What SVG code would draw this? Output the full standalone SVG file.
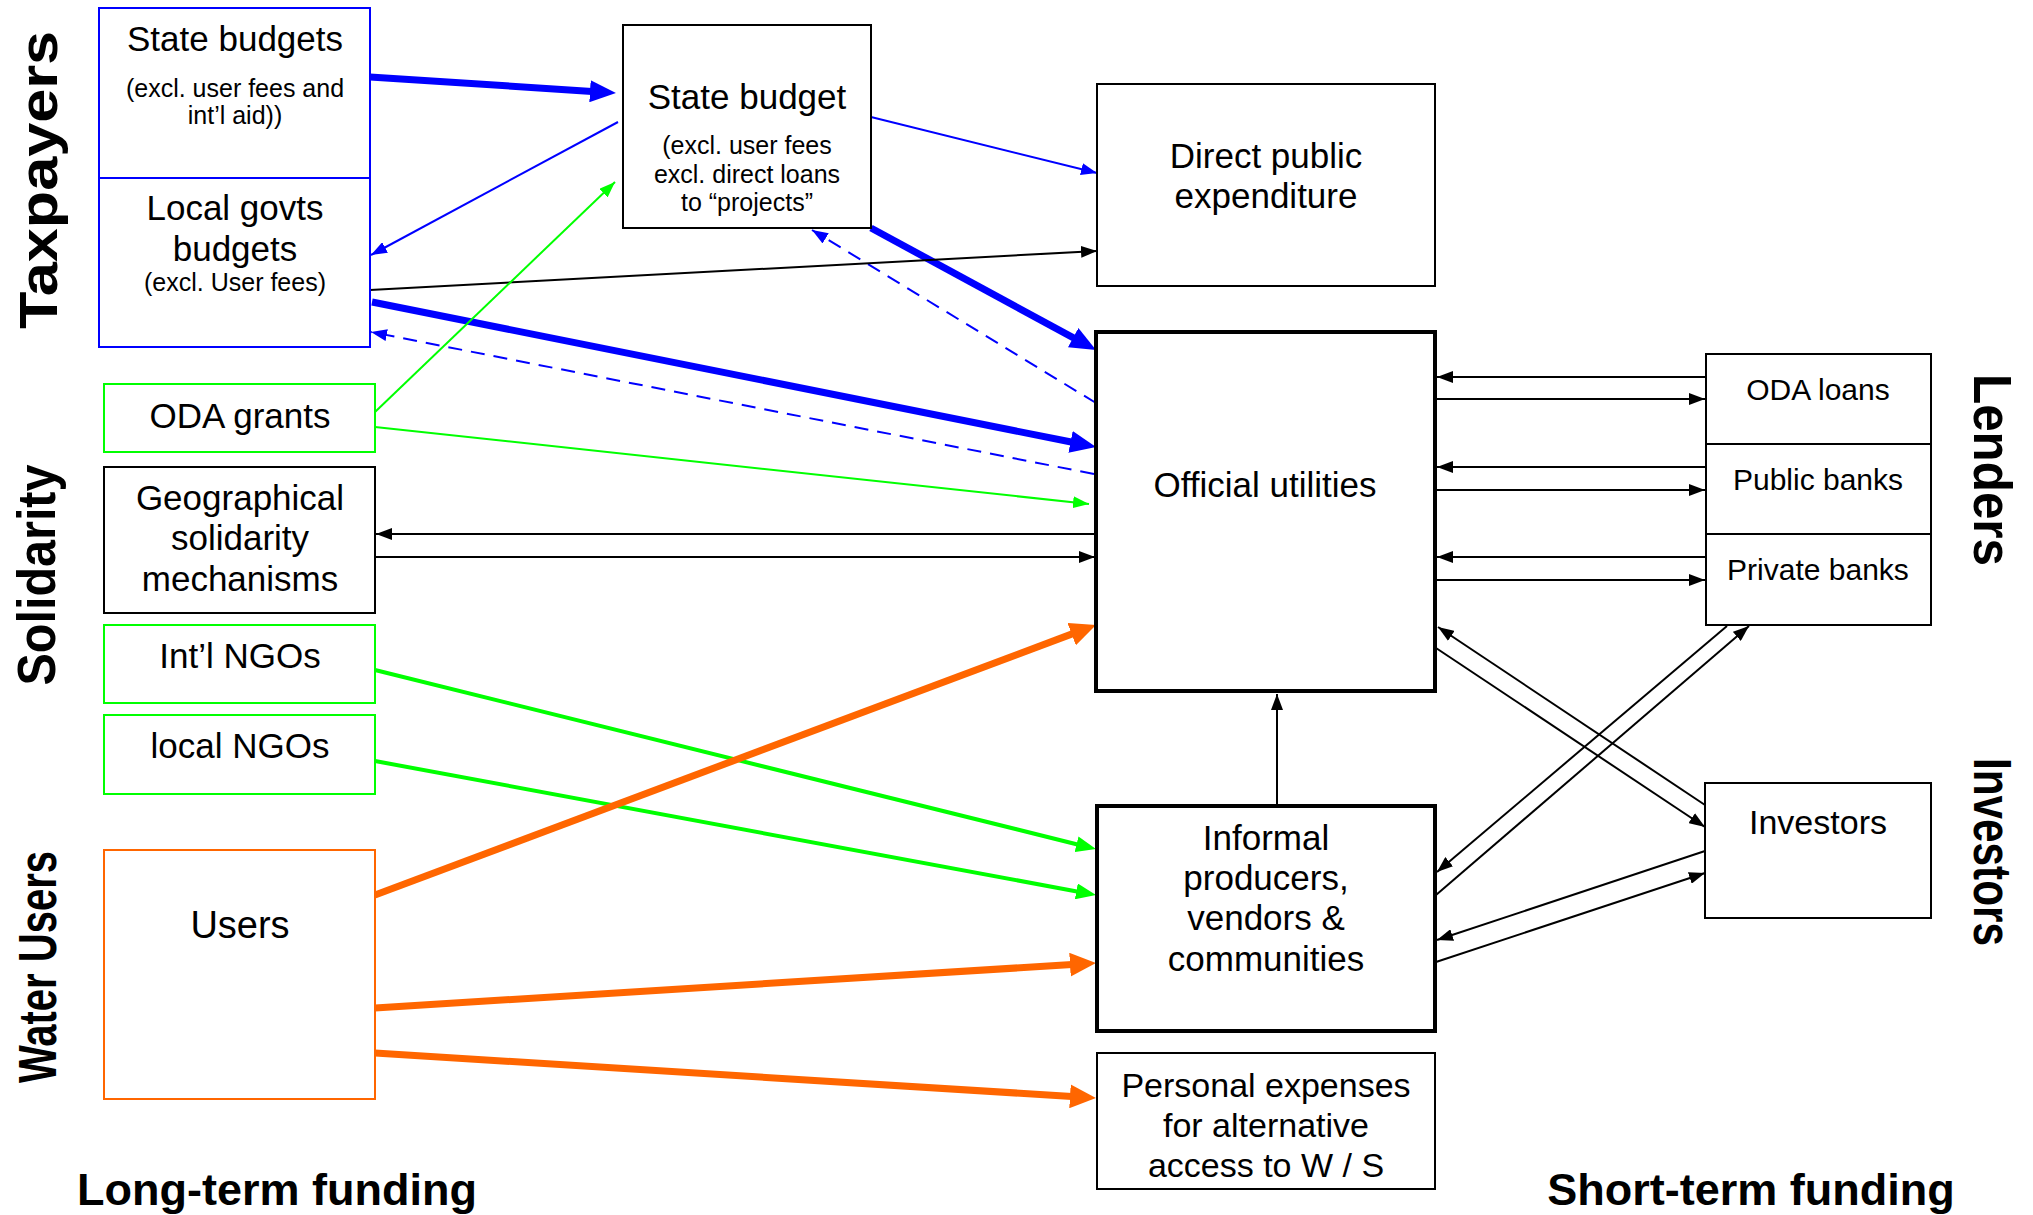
<svg xmlns="http://www.w3.org/2000/svg" width="2033" height="1215" viewBox="0 0 2033 1215">
<style>
text{font-family:"Liberation Sans",Arial,sans-serif;fill:#000;}
.t{font-size:35px;text-anchor:middle;}
.s{font-size:25px;text-anchor:middle;}
.l{font-size:30px;text-anchor:middle;}
.side{font-size:54px;font-weight:bold;text-anchor:middle;}
.foot{font-size:45px;font-weight:bold;text-anchor:middle;}
.bx{fill:#fff;stroke:#000;stroke-width:2;}
.bxk{fill:#fff;stroke:#000;stroke-width:4;}
.bb{fill:#fff;stroke:#0000ff;stroke-width:2;}
.bg{fill:#fff;stroke:#00ff00;stroke-width:2;}
.bo{fill:#fff;stroke:#ff6600;stroke-width:2;}
.cb{stroke:#0000ff;stroke-width:2;fill:none;}
.cbk{stroke:#0000ff;stroke-width:7;fill:none;}
.cbd{stroke:#0000ff;stroke-width:2;fill:none;stroke-dasharray:14 9;}
.ck{stroke:#000;stroke-width:2;fill:none;}
.cg{stroke:#00ff00;stroke-width:2;fill:none;}
.cgk{stroke:#00ff00;stroke-width:4;fill:none;}
.co{stroke:#ff6600;stroke-width:7;fill:none;}
</style>
<defs>
<marker id="mBlueBig" markerUnits="userSpaceOnUse" markerWidth="26" markerHeight="22" refX="2" refY="11" orient="auto"><path d="M0,0 L26,11 L0,22 z" fill="#0000ff"/></marker>
<marker id="mBlue" markerUnits="userSpaceOnUse" markerWidth="16" markerHeight="12" refX="16" refY="6" orient="auto"><path d="M0,0 L16,6 L0,12 z" fill="#0000ff"/></marker>
<marker id="mGreen" markerUnits="userSpaceOnUse" markerWidth="16" markerHeight="12" refX="16" refY="6" orient="auto"><path d="M0,0 L16,6 L0,12 z" fill="#00ff00"/></marker>
<marker id="mGreenMed" markerUnits="userSpaceOnUse" markerWidth="20" markerHeight="16" refX="2" refY="8" orient="auto"><path d="M0,0 L20,8 L0,16 z" fill="#00ff00"/></marker>
<marker id="mOrange" markerUnits="userSpaceOnUse" markerWidth="26" markerHeight="24" refX="2" refY="12" orient="auto"><path d="M0,0 L26,12 L0,24 z" fill="#ff6600"/></marker>
<marker id="mBlack" markerUnits="userSpaceOnUse" markerWidth="16" markerHeight="12" refX="16" refY="6" orient="auto"><path d="M0,0 L16,6 L0,12 z" fill="#000"/></marker>
</defs>
<rect width="2033" height="1215" fill="#fff"/>

<g id="side-labels">
<text class="side" transform="translate(57,180) rotate(-90)" textLength="298" lengthAdjust="spacingAndGlyphs">Taxpayers</text>
<text class="side" transform="translate(55,575) rotate(-90)" textLength="221" lengthAdjust="spacingAndGlyphs">Solidarity</text>
<text class="side" transform="translate(56,967) rotate(-90)" textLength="232" lengthAdjust="spacingAndGlyphs">Water Users</text>
<text class="side" transform="translate(1974,470) rotate(90)" textLength="192" lengthAdjust="spacingAndGlyphs">Lenders</text>
<text class="side" transform="translate(1974,852) rotate(90)" textLength="188" lengthAdjust="spacingAndGlyphs">Investors</text>
<text class="foot" x="277" y="1205">Long-term funding</text>
<text class="foot" x="1751" y="1205">Short-term funding</text>
</g>

<g id="connectors">
<line class="cbk" x1="370" y1="77" x2="592" y2="91.4" marker-end="url(#mBlueBig)"/>
<line class="cbk" x1="871" y1="228" x2="1074.9" y2="338.6" marker-end="url(#mBlueBig)"/>
<line class="cbk" x1="372" y1="302" x2="1072.5" y2="442.3" marker-end="url(#mBlueBig)"/>
<line class="cb" x1="618" y1="122" x2="371" y2="255" marker-end="url(#mBlue)"/>
<line class="cb" x1="871" y1="117" x2="1097" y2="173" marker-end="url(#mBlue)"/>
<line class="cbd" x1="1096" y1="403" x2="812" y2="230" marker-end="url(#mBlue)"/>
<line class="cbd" x1="1094" y1="474" x2="371" y2="332" marker-end="url(#mBlue)"/>
<line class="ck" x1="370" y1="290" x2="1097" y2="251" marker-end="url(#mBlack)"/>
<line class="cg" x1="375" y1="412" x2="615" y2="182" marker-end="url(#mGreen)"/>
<line class="cg" x1="375" y1="427" x2="1089" y2="504" marker-end="url(#mGreen)"/>
<line class="cgk" x1="375" y1="670" x2="1078.5" y2="844.7" marker-end="url(#mGreenMed)"/>
<line class="cgk" x1="375" y1="761" x2="1078.3" y2="891.7" marker-end="url(#mGreenMed)"/>
<line class="co" x1="375" y1="895" x2="1073.5" y2="633.4" marker-end="url(#mOrange)"/>
<line class="co" x1="375" y1="1008" x2="1072" y2="964.5" marker-end="url(#mOrange)"/>
<line class="co" x1="375" y1="1053" x2="1072" y2="1096.5" marker-end="url(#mOrange)"/>
<line class="ck" x1="1095" y1="534" x2="376" y2="534" marker-end="url(#mBlack)"/>
<line class="ck" x1="375" y1="557" x2="1095" y2="557" marker-end="url(#mBlack)"/>
<line class="ck" x1="1706" y1="377" x2="1437" y2="377" marker-end="url(#mBlack)"/>
<line class="ck" x1="1436" y1="399" x2="1705" y2="399" marker-end="url(#mBlack)"/>
<line class="ck" x1="1706" y1="467" x2="1437" y2="467" marker-end="url(#mBlack)"/>
<line class="ck" x1="1436" y1="490" x2="1705" y2="490" marker-end="url(#mBlack)"/>
<line class="ck" x1="1706" y1="557" x2="1437" y2="557" marker-end="url(#mBlack)"/>
<line class="ck" x1="1436" y1="580" x2="1705" y2="580" marker-end="url(#mBlack)"/>
<line class="ck" x1="1277" y1="805" x2="1277" y2="694" marker-end="url(#mBlack)"/>
<line class="ck" x1="1705" y1="805" x2="1438" y2="627" marker-end="url(#mBlack)"/>
<line class="ck" x1="1436" y1="648" x2="1705" y2="827" marker-end="url(#mBlack)"/>
<line class="ck" x1="1436" y1="895" x2="1749" y2="626" marker-end="url(#mBlack)"/>
<line class="ck" x1="1727" y1="626" x2="1437" y2="872" marker-end="url(#mBlack)"/>
<line class="ck" x1="1705" y1="851" x2="1437" y2="940" marker-end="url(#mBlack)"/>
<line class="ck" x1="1436" y1="962" x2="1705" y2="873" marker-end="url(#mBlack)"/>
</g>

<g id="state-budgets">
<rect class="bb" x="99" y="8" width="271" height="170"/>
<text class="t" x="235" y="51">State budgets</text>
<text class="s" x="235" y="97">(excl. user fees and</text>
<text class="s" x="235" y="124">int’l aid))</text>
</g>
<g id="local-govts">
<rect class="bb" x="99" y="178" width="271" height="169"/>
<text class="t" x="235" y="220">Local govts</text>
<text class="t" x="235" y="261">budgets</text>
<text class="s" x="235" y="291">(excl. User fees)</text>
</g>
<g id="state-budget">
<rect class="bx" x="623" y="25" width="248" height="203"/>
<text class="t" x="747" y="109">State budget</text>
<text class="s" x="747" y="154">(excl. user fees</text>
<text class="s" x="747" y="183">excl. direct loans</text>
<text class="s" x="747" y="211">to “projects”</text>
</g>
<g id="direct-public">
<rect class="bx" x="1097" y="84" width="338" height="202"/>
<text class="t" x="1266" y="168">Direct public</text>
<text class="t" x="1266" y="208">expenditure</text>
</g>
<g id="official-utilities">
<rect class="bxk" x="1096" y="332" width="339" height="359"/>
<text class="t" x="1265" y="497">Official utilities</text>
</g>
<g id="oda-grants">
<rect class="bg" x="104" y="384" width="271" height="68"/>
<text class="t" x="240" y="428">ODA grants</text>
</g>
<g id="geographical">
<rect class="bx" x="104" y="467" width="271" height="146"/>
<text class="t" x="240" y="510">Geographical</text>
<text class="t" x="240" y="550">solidarity</text>
<text class="t" x="240" y="591">mechanisms</text>
</g>
<g id="intl-ngos">
<rect class="bg" x="104" y="625" width="271" height="78"/>
<text class="t" x="240" y="668">Int’l NGOs</text>
</g>
<g id="local-ngos">
<rect class="bg" x="104" y="715" width="271" height="79"/>
<text class="t" x="240" y="758">local NGOs</text>
</g>
<g id="users">
<rect class="bo" x="104" y="850" width="271" height="249"/>
<text class="t" x="240" y="938" style="font-size:38px">Users</text>
</g>
<g id="oda-loans">
<rect class="bx" x="1706" y="354" width="225" height="90"/>
<text class="l" x="1818" y="400">ODA loans</text>
</g>
<g id="public-banks">
<rect class="bx" x="1706" y="444" width="225" height="90"/>
<text class="l" x="1818" y="490">Public banks</text>
</g>
<g id="private-banks">
<rect class="bx" x="1706" y="534" width="225" height="91"/>
<text class="l" x="1818" y="580">Private banks</text>
</g>
<g id="investors">
<rect class="bx" x="1705" y="783" width="226" height="135"/>
<text class="t" x="1818" y="834" style="font-size:34px">Investors</text>
</g>
<g id="informal">
<rect class="bxk" x="1097" y="806" width="338" height="225"/>
<text class="t" x="1266" y="850">Informal</text>
<text class="t" x="1266" y="890">producers,</text>
<text class="t" x="1266" y="930">vendors &amp;</text>
<text class="t" x="1266" y="971">communities</text>
</g>
<g id="personal">
<rect class="bx" x="1097" y="1053" width="338" height="136"/>
<text class="t" x="1266" y="1097" style="font-size:34px">Personal expenses</text>
<text class="t" x="1266" y="1137" style="font-size:34px">for alternative</text>
<text class="t" x="1266" y="1177" style="font-size:34px">access to W / S</text>
</g>
</svg>
